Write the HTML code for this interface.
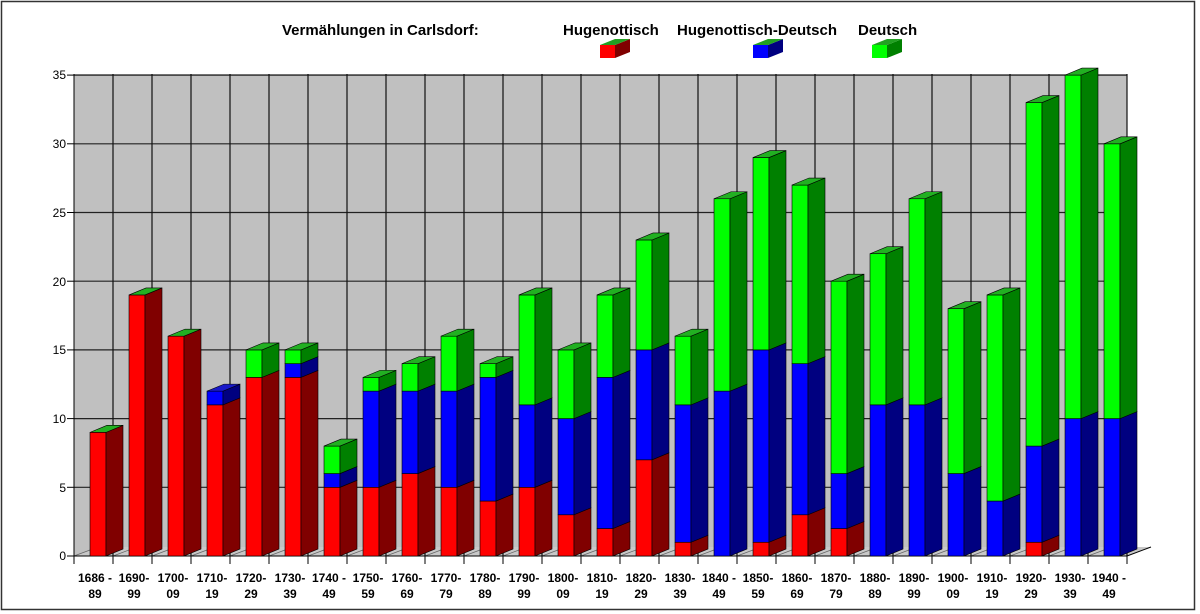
<!DOCTYPE html>
<html><head><meta charset="utf-8"><style>
body{margin:0;background:#fff}
svg{display:block}
text{font-family:"Liberation Sans",Arial,sans-serif}
</style></head><body>
<svg id="s" width="1200" height="614" viewBox="0 0 1200 614">
<rect x="0" y="0" width="1200" height="614" fill="#fff"/>
<rect x="1.5" y="1.5" width="1193" height="608" fill="none" stroke="#333" stroke-width="1.5"/>
<polygon points="74,74 1127,74 1127,556 74,556" fill="#c0c0c0"/>
<polygon points="74,556 1127,556 1151,547 98,547" fill="#c8c8c8"/>
<g id="grid"></g>
<g id="bars"></g>
<g font-size="12" text-anchor="end" fill="#000">
<text x="66" y="560">0</text><text x="66" y="492">5</text><text x="66" y="423">10</text>
<text x="66" y="354">15</text><text x="66" y="286">20</text><text x="66" y="217">25</text>
<text x="66" y="148">30</text><text x="66" y="79">35</text>
</g>
<g font-size="12" font-weight="bold" text-anchor="middle" fill="#000">
<text x="95" y="582">1686 -</text><text x="95" y="598">89</text>
<text x="134" y="582">1690-</text><text x="134" y="598">99</text>
<text x="173" y="582">1700-</text><text x="173" y="598">09</text>
<text x="212" y="582">1710-</text><text x="212" y="598">19</text>
<text x="251" y="582">1720-</text><text x="251" y="598">29</text>
<text x="290" y="582">1730-</text><text x="290" y="598">39</text>
<text x="329" y="582">1740 -</text><text x="329" y="598">49</text>
<text x="368" y="582">1750-</text><text x="368" y="598">59</text>
<text x="407" y="582">1760-</text><text x="407" y="598">69</text>
<text x="446" y="582">1770-</text><text x="446" y="598">79</text>
<text x="485" y="582">1780-</text><text x="485" y="598">89</text>
<text x="524" y="582">1790-</text><text x="524" y="598">99</text>
<text x="563" y="582">1800-</text><text x="563" y="598">09</text>
<text x="602" y="582">1810-</text><text x="602" y="598">19</text>
<text x="641" y="582">1820-</text><text x="641" y="598">29</text>
<text x="680" y="582">1830-</text><text x="680" y="598">39</text>
<text x="719" y="582">1840 -</text><text x="719" y="598">49</text>
<text x="758" y="582">1850-</text><text x="758" y="598">59</text>
<text x="797" y="582">1860-</text><text x="797" y="598">69</text>
<text x="836" y="582">1870-</text><text x="836" y="598">79</text>
<text x="875" y="582">1880-</text><text x="875" y="598">89</text>
<text x="914" y="582">1890-</text><text x="914" y="598">99</text>
<text x="953" y="582">1900-</text><text x="953" y="598">09</text>
<text x="992" y="582">1910-</text><text x="992" y="598">19</text>
<text x="1031" y="582">1920-</text><text x="1031" y="598">29</text>
<text x="1070" y="582">1930-</text><text x="1070" y="598">39</text>
<text x="1109" y="582">1940 -</text><text x="1109" y="598">49</text>
</g>
<g font-size="15" font-weight="bold" fill="#000">
<text x="282" y="35">Vermählungen in Carlsdorf:</text>
<text x="563" y="35">Hugenottisch</text>
<text x="677" y="35">Hugenottisch-Deutsch</text>
<text x="858" y="35">Deutsch</text>
</g>
<g id="leg"></g>
</svg>
<script>
var ns="http://www.w3.org/2000/svg";
function el(p,t,a){var e=document.createElementNS(ns,t);for(var k in a)e.setAttribute(k,a[k]);p.appendChild(e);return e;}
var g=document.getElementById("grid"),b=document.getElementById("bars"),L=document.getElementById("leg");
var Y0=556,S=13.74,X0=74,P=39;
for(var v=5;v<=35;v+=5){var y=Y0-v*S;el(g,"line",{x1:X0,y1:y,x2:1127,y2:y,stroke:"#222","stroke-width":1.2});el(g,"line",{x1:X0-7,y1:y,x2:X0,y2:y,stroke:"#000"});}
for(var i=0;i<=27;i++){var x=X0+i*P;if(i>0)el(g,"line",{x1:x,y1:74,x2:x,y2:556,stroke:"#111","stroke-width":1.2});el(g,"line",{x1:x,y1:556,x2:x,y2:564,stroke:"#000"});if(i<27)el(g,"line",{x1:x,y1:556,x2:x+24,y2:547,stroke:"#666","stroke-width":0.7});}
el(g,"line",{x1:X0,y1:74,x2:X0,y2:556,stroke:"#000"});
el(g,"line",{x1:X0-7,y1:556,x2:1127,y2:556,stroke:"#000"});
el(g,"line",{x1:1127,y1:556,x2:1151,y2:547,stroke:"#000"});
var D=[[9,0,0],[19,0,0],[16,0,0],[11,1,0],[13,0,2],[13,1,1],[5,1,2],[5,7,1],[6,6,2],[5,7,4],[4,9,1],[5,6,8],[3,7,5],[2,11,6],[7,8,8],[1,10,5],[0,12,14],[1,14,14],[3,11,13],[2,4,14],[0,11,11],[0,11,15],[0,6,12],[0,4,15],[1,7,25],[0,10,25],[0,10,20]];
var F=["#ff0000","#0000ff","#00ff00"],Sd=["#800000","#000080","#008000"];
var dx=17,dy=7,w=16;
D.forEach(function(d,i){var x=90+i*P,base=0,top=0;
 for(var k=0;k<3;k++){if(!d[k])continue;var y1=Y0-base*S,y2=Y0-(base+d[k])*S;
  el(b,"rect",{x:x,y:y2,width:w,height:y1-y2,fill:F[k],stroke:"#000","stroke-width":0.6});
  el(b,"polygon",{points:[x+w,y1,x+w+dx,y1-dy,x+w+dx,y2-dy,x+w,y2].join(","),fill:Sd[k],stroke:"#000","stroke-width":0.6});
  base+=d[k];top=k;}
 var yt=Y0-base*S;
 var cap=(i==3)?"#1818c8":"#22b022";
 el(b,"polygon",{points:[x,yt,x+dx,yt-dy,x+w+dx,yt-dy,x+w,yt].join(","),fill:cap,stroke:"#000","stroke-width":0.6});
});
[[600,0],[753,1],[872,2]].forEach(function(a){var x=a[0],k=a[1],y=45,h=13,ww=15,ddx=15,ddy=6;
 el(L,"rect",{x:x,y:y,width:ww,height:h,fill:F[k]});
 el(L,"polygon",{points:[x+ww,y+h,x+ww+ddx,y+h-ddy,x+ww+ddx,y-ddy,x+ww,y].join(","),fill:Sd[k]});
 el(L,"polygon",{points:[x,y,x+ddx,y-ddy,x+ww+ddx,y-ddy,x+ww,y].join(","),fill:"#22a022"});
});
</script>
</body></html>
